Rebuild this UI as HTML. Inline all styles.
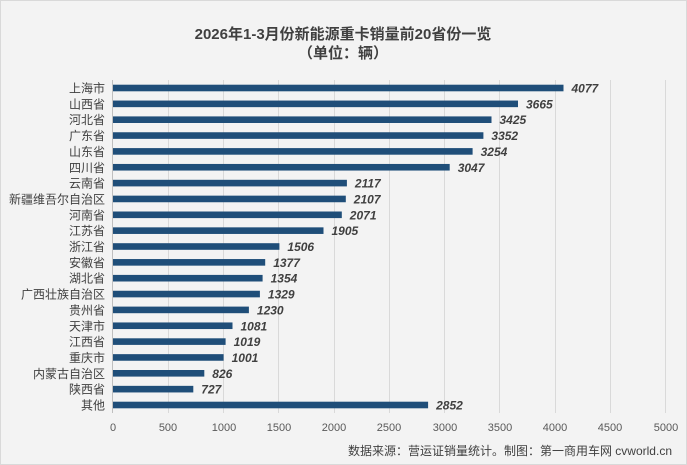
<!DOCTYPE html>
<html><head><meta charset="utf-8"><style>
html,body{margin:0;padding:0;background:#fff}
svg{display:block}
text{font-family:"Liberation Sans","Noto Sans CJK SC",sans-serif}
.n{font-size:12px;fill:#404040;text-anchor:end}
.v{font-size:12px;font-weight:bold;font-style:italic;fill:#404040}
</style></head><body>
<svg width="687" height="465" xmlns="http://www.w3.org/2000/svg">
<rect x="0.5" y="0.5" width="686" height="464" fill="#f3f3f3" stroke="#d9d9d9"/>
<text x="343" y="39" text-anchor="middle" font-size="15" font-weight="bold" fill="#404040">2026年1-3月份新能源重卡销量前20省份一览</text>
<text x="343" y="58" text-anchor="middle" font-size="15" font-weight="bold" fill="#404040">（单位：辆）</text>
<g stroke="#d9d9d9" stroke-width="1">
<line x1="168.5" y1="80" x2="168.5" y2="413"/><line x1="223.5" y1="80" x2="223.5" y2="413"/>
<line x1="278.5" y1="80" x2="278.5" y2="413"/><line x1="334.5" y1="80" x2="334.5" y2="413"/>
<line x1="389.5" y1="80" x2="389.5" y2="413"/><line x1="444.5" y1="80" x2="444.5" y2="413"/>
<line x1="499.5" y1="80" x2="499.5" y2="413"/><line x1="555.5" y1="80" x2="555.5" y2="413"/>
<line x1="610.5" y1="80" x2="610.5" y2="413"/><line x1="665.5" y1="80" x2="665.5" y2="413"/>
</g>
<line x1="112.5" y1="80" x2="112.5" y2="413" stroke="#bfbfbf"/>
<g fill="#1f4e79">
<rect x="113" y="84.7" width="450.5" height="6.6"/>
<rect x="113" y="100.55" width="405" height="6.6"/>
<rect x="113" y="116.4" width="378.5" height="6.6"/>
<rect x="113" y="132.25" width="370.4" height="6.6"/>
<rect x="113" y="148.1" width="359.6" height="6.6"/>
<rect x="113" y="163.95" width="336.7" height="6.6"/>
<rect x="113" y="179.8" width="233.9" height="6.6"/>
<rect x="113" y="195.65" width="232.8" height="6.6"/>
<rect x="113" y="211.5" width="228.8" height="6.6"/>
<rect x="113" y="227.35" width="210.5" height="6.6"/>
<rect x="113" y="243.2" width="166.4" height="6.6"/>
<rect x="113" y="259.05" width="152.2" height="6.6"/>
<rect x="113" y="274.9" width="149.6" height="6.6"/>
<rect x="113" y="290.75" width="146.9" height="6.6"/>
<rect x="113" y="306.6" width="135.9" height="6.6"/>
<rect x="113" y="322.45" width="119.5" height="6.6"/>
<rect x="113" y="338.3" width="112.6" height="6.6"/>
<rect x="113" y="354.15" width="110.6" height="6.6"/>
<rect x="113" y="370" width="91.3" height="6.6"/>
<rect x="113" y="385.85" width="80.3" height="6.6"/>
<rect x="113" y="401.7" width="315.1" height="6.6"/>
</g>
<g>
<text class="n" x="105" y="92.5">上海市</text>
<text class="n" x="105" y="108.35">山西省</text>
<text class="n" x="105" y="124.2">河北省</text>
<text class="n" x="105" y="140.05">广东省</text>
<text class="n" x="105" y="155.9">山东省</text>
<text class="n" x="105" y="171.75">四川省</text>
<text class="n" x="105" y="187.6">云南省</text>
<text class="n" x="105" y="203.45">新疆维吾尔自治区</text>
<text class="n" x="105" y="219.3">河南省</text>
<text class="n" x="105" y="235.15">江苏省</text>
<text class="n" x="105" y="251">浙江省</text>
<text class="n" x="105" y="266.85">安徽省</text>
<text class="n" x="105" y="282.7">湖北省</text>
<text class="n" x="105" y="298.55">广西壮族自治区</text>
<text class="n" x="105" y="314.4">贵州省</text>
<text class="n" x="105" y="330.25">天津市</text>
<text class="n" x="105" y="346.1">江西省</text>
<text class="n" x="105" y="361.95">重庆市</text>
<text class="n" x="105" y="377.8">内蒙古自治区</text>
<text class="n" x="105" y="393.65">陕西省</text>
<text class="n" x="105" y="409.5">其他</text>
</g>
<g>
<text class="v" x="571.5" y="92.5">4077</text>
<text class="v" x="526" y="108.35">3665</text>
<text class="v" x="499.5" y="124.2">3425</text>
<text class="v" x="491.4" y="140.05">3352</text>
<text class="v" x="480.6" y="155.9">3254</text>
<text class="v" x="457.7" y="171.75">3047</text>
<text class="v" x="354.9" y="187.6">2117</text>
<text class="v" x="353.8" y="203.45">2107</text>
<text class="v" x="349.8" y="219.3">2071</text>
<text class="v" x="331.5" y="235.15">1905</text>
<text class="v" x="287.4" y="251">1506</text>
<text class="v" x="273.2" y="266.85">1377</text>
<text class="v" x="270.6" y="282.7">1354</text>
<text class="v" x="267.9" y="298.55">1329</text>
<text class="v" x="256.9" y="314.4">1230</text>
<text class="v" x="240.5" y="330.25">1081</text>
<text class="v" x="233.6" y="346.1">1019</text>
<text class="v" x="231.6" y="361.95">1001</text>
<text class="v" x="212.3" y="377.8">826</text>
<text class="v" x="201.3" y="393.65">727</text>
<text class="v" x="436.1" y="409.5">2852</text>
</g>
<g font-size="11" fill="#595959" text-anchor="middle">
<text x="113" y="431">0</text><text x="168" y="431">500</text><text x="224" y="431">1000</text><text x="279" y="431">1500</text><text x="334" y="431">2000</text><text x="389" y="431">2500</text><text x="445" y="431">3000</text><text x="500" y="431">3500</text><text x="555" y="431">4000</text><text x="610" y="431">4500</text><text x="666" y="431">5000</text>
</g>
<text x="672" y="455" text-anchor="end" font-size="12" fill="#404040">数据来源：营运证销量统计。制图：第一商用车网 cvworld.cn</text>
</svg>
</body></html>
